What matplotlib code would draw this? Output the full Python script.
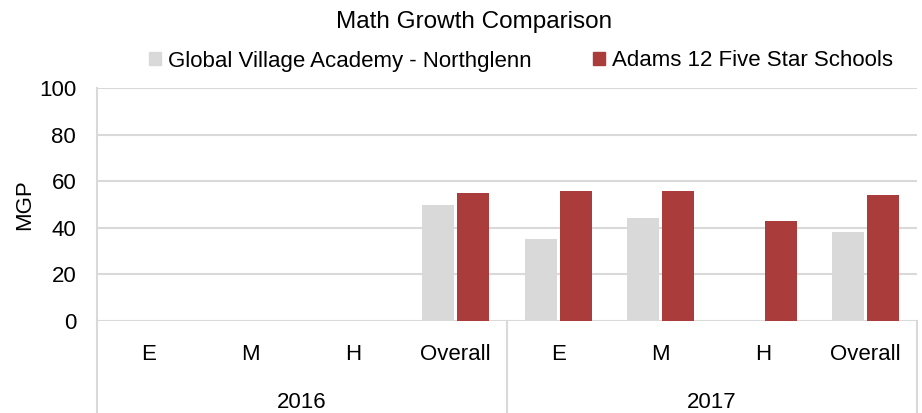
import numpy as np
import matplotlib
matplotlib.use("Agg")
import matplotlib.pyplot as plt
import matplotlib.transforms as mtransforms
from matplotlib.patches import Patch

# ---------------- data ----------------
years = ["2016", "2017"]
levels = ["E", "M", "H", "Overall"]
gva_mgp = [np.nan, np.nan, np.nan, 50, 35, 44, np.nan, 38]
adams_mgp = [np.nan, np.nan, np.nan, 55, 56, 56, 43, 54]
series_names = ["Global Village Academy - Northglenn", "Adams 12 Five Star Schools"]

GRAY = "#d9d9d9"
RED = "#aa3c3c"

plt.rcParams["font.family"] = ["Liberation Sans", "DejaVu Sans"]

fig = plt.figure(figsize=(9.22, 4.13), dpi=100)
ax = fig.add_axes([97 / 922, 1 - 321 / 413, 820 / 922, 233 / 413])

x = np.arange(len(gva_mgp))
w = 0.31
ax.bar(x - w / 2 - 0.015, gva_mgp, width=w, color=GRAY, zorder=3)
ax.bar(x + w / 2 + 0.015, adams_mgp, width=w, color=RED, zorder=3)

ax.set_xlim(-0.5, len(x) - 0.5)
ax.set_ylim(0, 100)
ax.set_yticks(range(0, 101, 20))
ax.tick_params(axis="y", length=0, labelsize=16, pad=15)
ax.set_xticks([])
ax.grid(axis="y", color=GRAY, linewidth=1.5, zorder=0)
for s in ["top", "right", "bottom"]:
    ax.spines[s].set_visible(False)
ax.spines["left"].set_color(GRAY)
ax.spines["left"].set_linewidth(1.5)
ax.set_ylabel("MGP", fontsize=16, labelpad=3)

# category axis (levels + years)
trans = mtransforms.blended_transform_factory(ax.transData, ax.transAxes)
labels = levels * len(years)
for i, lab in enumerate(labels):
    ax.text(i, -0.145, lab, transform=trans, ha="center", va="center", fontsize=16)
for j, yr in enumerate(years):
    c = j * len(levels) + (len(levels) - 1) / 2
    ax.text(c, -0.35, yr, transform=trans, ha="center", va="center", fontsize=16)
for j in range(len(years) + 1):
    xs = j * len(levels) - 0.5
    ax.plot([xs, xs], [0, -0.4], transform=trans, color=GRAY, linewidth=1.5, clip_on=False)

fig.text(474 / 922, 1 - 22 / 413, "Math Growth Comparison", ha="center", va="center", fontsize=17.5)

handles = [Patch(color=GRAY), Patch(color=RED)]
fig.legend(handles, series_names, loc="center", bbox_to_anchor=(521 / 922, 1 - 61 / 413),
           ncol=2, frameon=False, fontsize=16, handlelength=0.55, handleheight=0.55,
           handletextpad=0.3, columnspacing=2.75, borderaxespad=0, borderpad=0)

plt.savefig("out.png", dpi=100)
